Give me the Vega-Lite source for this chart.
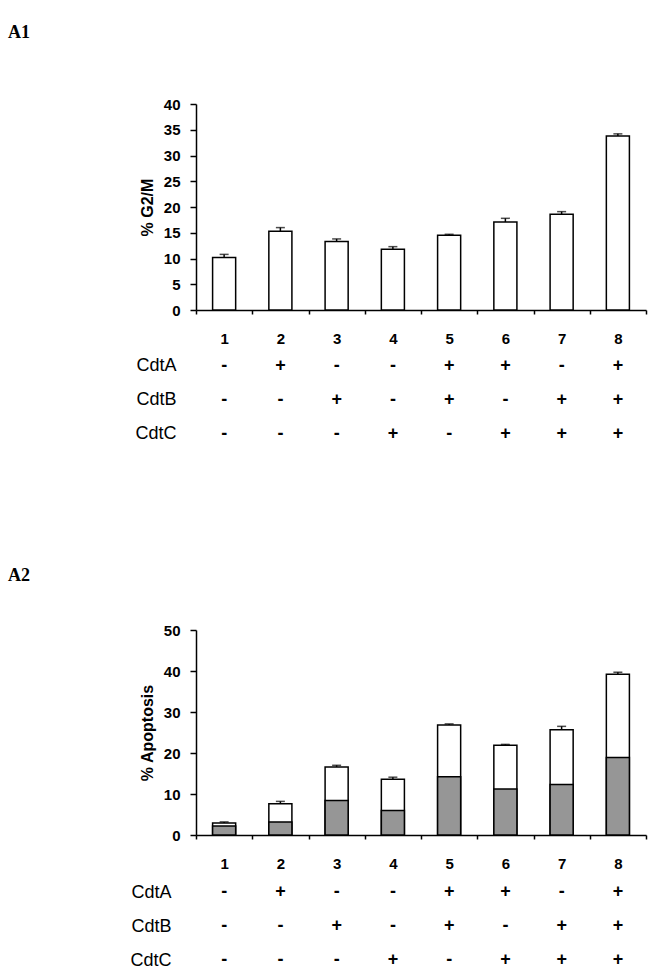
{
  "$schema": "https://vega.github.io/schema/vega-lite/v6.json",
  "padding": {"left": 8, "top": 24, "right": 10, "bottom": 0},
  "spacing": 0,
  "background": "white",
  "datasets": {
    "g2m": [
      {"lane": "1", "value": 10.2, "err": 10.8},
      {"lane": "2", "value": 15.3, "err": 16.0},
      {"lane": "3", "value": 13.3, "err": 13.8},
      {"lane": "4", "value": 11.8, "err": 12.3},
      {"lane": "5", "value": 14.5, "err": 14.7},
      {"lane": "6", "value": 17.1, "err": 17.8},
      {"lane": "7", "value": 18.6, "err": 19.1},
      {"lane": "8", "value": 33.8, "err": 34.2}
    ],
    "apop": [
      {"lane": "1", "total": 2.9, "err": 3.2, "lower": 2.2},
      {"lane": "2", "total": 7.6, "err": 8.2, "lower": 3.2},
      {"lane": "3", "total": 16.6, "err": 17.0, "lower": 8.4},
      {"lane": "4", "total": 13.6, "err": 14.1, "lower": 6.0},
      {"lane": "5", "total": 26.8, "err": 27.1, "lower": 14.2},
      {"lane": "6", "total": 21.9, "err": 22.1, "lower": 11.2},
      {"lane": "7", "total": 25.7, "err": 26.5, "lower": 12.3},
      {"lane": "8", "total": 39.2, "err": 39.7, "lower": 18.9}
    ],
    "cdt": [
      {"lane": "1", "prot": "CdtA", "sign": "-"},
      {"lane": "2", "prot": "CdtA", "sign": "+"},
      {"lane": "3", "prot": "CdtA", "sign": "-"},
      {"lane": "4", "prot": "CdtA", "sign": "-"},
      {"lane": "5", "prot": "CdtA", "sign": "+"},
      {"lane": "6", "prot": "CdtA", "sign": "+"},
      {"lane": "7", "prot": "CdtA", "sign": "-"},
      {"lane": "8", "prot": "CdtA", "sign": "+"},
      {"lane": "1", "prot": "CdtB", "sign": "-"},
      {"lane": "2", "prot": "CdtB", "sign": "-"},
      {"lane": "3", "prot": "CdtB", "sign": "+"},
      {"lane": "4", "prot": "CdtB", "sign": "-"},
      {"lane": "5", "prot": "CdtB", "sign": "+"},
      {"lane": "6", "prot": "CdtB", "sign": "-"},
      {"lane": "7", "prot": "CdtB", "sign": "+"},
      {"lane": "8", "prot": "CdtB", "sign": "+"},
      {"lane": "1", "prot": "CdtC", "sign": "-"},
      {"lane": "2", "prot": "CdtC", "sign": "-"},
      {"lane": "3", "prot": "CdtC", "sign": "-"},
      {"lane": "4", "prot": "CdtC", "sign": "+"},
      {"lane": "5", "prot": "CdtC", "sign": "-"},
      {"lane": "6", "prot": "CdtC", "sign": "+"},
      {"lane": "7", "prot": "CdtC", "sign": "+"},
      {"lane": "8", "prot": "CdtC", "sign": "+"}
    ]
  },
  "config": {
    "view": {"stroke": null},
    "font": "Liberation Sans",
    "axis": {
      "domainColor": "black", "domainWidth": 1.5,
      "tickColor": "black", "tickWidth": 1.5,
      "labelColor": "black", "labelFont": "Liberation Sans", "labelFontWeight": "bold", "labelFontSize": 15,
      "titleColor": "black", "titleFont": "Liberation Sans", "titleFontWeight": "bold", "titleFontSize": 16,
      "grid": false
    }
  },
  "vconcat": [
    {
      "width": 450, "height": 206,
      "title": {"text": "A1", "anchor": "start", "frame": "group", "dx": -188, "offset": 55, "font": "Liberation Serif", "fontSize": 18, "fontWeight": "bold", "color": "black"},
      "data": {"name": "g2m"},
      "encoding": {
        "x": {"field": "lane", "type": "nominal", "scale": {"paddingInner": 0, "paddingOuter": 0},
              "axis": {"title": null, "labelAngle": 0, "tickBand": "extent", "tickSize": 4, "labelPadding": 17.5}}
      },
      "layer": [
        {"mark": {"type": "bar", "fill": "white", "stroke": "black", "strokeWidth": 1.5, "width": {"band": 0.41}},
         "encoding": {"y": {"field": "value", "type": "quantitative", "title": "% G2/M",
            "scale": {"domain": [0, 40], "nice": false},
            "axis": {"values": [0, 5, 10, 15, 20, 25, 30, 35, 40], "labelOverlap": false, "tickSize": 6, "labelPadding": 10, "titlePadding": 8}}}},
        {"mark": {"type": "rule", "strokeWidth": 1.5, "color": "black"},
         "encoding": {"y": {"field": "value", "type": "quantitative", "title": "% G2/M",
            "axis": {"values": [0, 5, 10, 15, 20, 25, 30, 35, 40], "labelOverlap": false, "tickSize": 6, "labelPadding": 10, "titlePadding": 8}}, "y2": {"field": "err"}}},
        {"mark": {"type": "tick", "color": "black", "thickness": 1.5, "size": 9},
         "encoding": {"y": {"field": "err", "type": "quantitative", "title": "% G2/M",
            "axis": {"values": [0, 5, 10, 15, 20, 25, 30, 35, 40], "labelOverlap": false, "tickSize": 6, "labelPadding": 10, "titlePadding": 8}}}}
      ]
    },
    {
      "width": 450, "height": 219.1,
      "data": {"name": "cdt"},
      "mark": {"type": "text", "font": "Liberation Sans", "fontWeight": "bold", "fontSize": 18, "color": "black"},
      "encoding": {
        "x": {"field": "lane", "type": "nominal", "scale": {"type": "point", "padding": 0.5}, "axis": null},
        "y": {"field": "prot", "type": "nominal", "sort": ["CdtA", "CdtB", "CdtC"],
              "scale": {"type": "point", "padding": 0, "range": [18.5, 86.5]},
              "axis": {"title": null, "domain": false, "ticks": false, "labelPadding": 20, "labelFontWeight": "normal", "labelFontSize": 18}},
        "text": {"field": "sign"}
      }
    },
    {
      "width": 450, "height": 205,
      "title": {"text": "A2", "anchor": "start", "frame": "group", "dx": -188, "offset": 37.7, "font": "Liberation Serif", "fontSize": 18, "fontWeight": "bold", "color": "black"},
      "data": {"name": "apop"},
      "encoding": {
        "x": {"field": "lane", "type": "nominal", "scale": {"paddingInner": 0, "paddingOuter": 0},
              "axis": {"title": null, "labelAngle": 0, "tickBand": "extent", "tickSize": 4, "labelPadding": 17.5}}
      },
      "layer": [
        {"mark": {"type": "bar", "fill": "white", "stroke": "black", "strokeWidth": 1.5, "width": {"band": 0.41}},
         "encoding": {"y": {"field": "total", "type": "quantitative", "title": "% Apoptosis",
            "scale": {"domain": [0, 50], "nice": false},
            "axis": {"values": [0, 10, 20, 30, 40, 50], "tickSize": 6, "labelPadding": 10, "titlePadding": 8}}}},
        {"mark": {"type": "bar", "fill": "#969696", "stroke": "black", "strokeWidth": 1.5, "width": {"band": 0.41}},
         "encoding": {"y": {"field": "lower", "type": "quantitative", "title": "% Apoptosis",
            "axis": {"values": [0, 10, 20, 30, 40, 50], "tickSize": 6, "labelPadding": 10, "titlePadding": 8}}}},
        {"mark": {"type": "rule", "strokeWidth": 1.5, "color": "black"},
         "encoding": {"y": {"field": "total", "type": "quantitative", "title": "% Apoptosis",
            "axis": {"values": [0, 10, 20, 30, 40, 50], "tickSize": 6, "labelPadding": 10, "titlePadding": 8}}, "y2": {"field": "err"}}},
        {"mark": {"type": "tick", "color": "black", "thickness": 1.5, "size": 9},
         "encoding": {"y": {"field": "err", "type": "quantitative", "title": "% Apoptosis",
            "axis": {"values": [0, 10, 20, 30, 40, 50], "tickSize": 6, "labelPadding": 10, "titlePadding": 8}}}}
      ]
    },
    {
      "width": 450, "height": 88.2,
      "data": {"name": "cdt"},
      "mark": {"type": "text", "font": "Liberation Sans", "fontWeight": "bold", "fontSize": 18, "color": "black"},
      "encoding": {
        "x": {"field": "lane", "type": "nominal", "scale": {"type": "point", "padding": 0.5}, "axis": null},
        "y": {"field": "prot", "type": "nominal", "sort": ["CdtA", "CdtB", "CdtC"],
              "scale": {"type": "point", "padding": 0, "range": [20.2, 88.2]},
              "axis": {"title": null, "domain": false, "ticks": false, "labelPadding": 25, "labelFontWeight": "normal", "labelFontSize": 18}},
        "text": {"field": "sign"}
      }
    }
  ]
}
